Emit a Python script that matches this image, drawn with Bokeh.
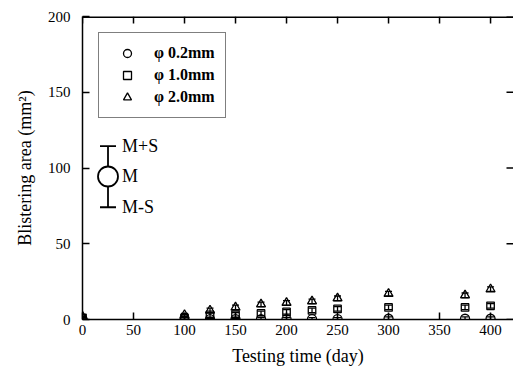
import math
from bokeh.plotting import figure
from bokeh.models import (Range1d, FixedTicker, Whisker, ColumnDataSource,
                          Legend, LegendItem, TeeHead)
from bokeh.core.properties import value
from bokeh.embed import file_html
from bokeh.resources import INLINE

# ---- data ----
days = [0, 100, 125, 150, 175, 200, 225, 250, 300, 375, 400]
area_02 = [0.3, 0.3, 0.3, 0.3, 0.3, 0.3, 0.3, 0.3, 0.5, 0.5, 0.5]
err_02 = [1.0, 1.0, 1.0, 1.0, 1.0, 1.0, 1.0, 1.0, 1.2, 1.2, 1.2]
area_10 = [1.0, 1.0, 3.0, 3.0, 4.0, 5.0, 6.0, 7.0, 8.0, 8.0, 9.0]
err_10 = [1.0, 1.0, 1.5, 1.5, 1.5, 1.5, 1.5, 1.5, 1.5, 1.5, 1.5]
area_20 = [2.0, 3.0, 6.0, 8.0, 10.0, 11.0, 12.0, 14.0, 17.0, 16.0, 20.0]
err_20 = [1.0, 1.0, 1.5, 1.5, 1.5, 1.5, 1.5, 1.5, 1.5, 1.5, 1.5]
series_labels = ["\u03c6 0.2mm", "\u03c6 1.0mm", "\u03c6 2.0mm"]

x_ticks = [0, 50, 100, 150, 200, 250, 300, 350, 400]
y_ticks = [0, 50, 100, 150, 200]
x_end = 422.5

# explanatory symbol (mean +/- std)
sample_x = [25]
sample_mean = [94.4]
sample_upper = [114.4]
sample_lower = [74.1]
sample_texts = ["M+S", "M", "M-S"]

SERIF = "Liberation Serif"

p = figure(width=513, height=382, x_range=Range1d(x_ticks[0], x_end),
           y_range=Range1d(y_ticks[0], y_ticks[-1]),
           output_backend="svg", toolbar_location=None,
           min_border_left=82, min_border_right=0, min_border_top=16, min_border_bottom=63)
p.xgrid.visible = False
p.ygrid.visible = False
p.outline_line_color = None
p.background_fill_color = "white"
p.border_fill_color = "white"

xa = p.below[0]
ya = p.left[0]
xa.ticker = FixedTicker(ticks=x_ticks)
ya.ticker = FixedTicker(ticks=y_ticks)

for ax in (xa, ya):
    ax.axis_line_color = "black"
    ax.axis_line_width = 1.5
    ax.major_tick_line_color = "black"
    ax.major_tick_line_width = 1.5
    ax.major_tick_in = 7
    ax.major_tick_out = 0
    ax.minor_tick_line_color = None
    ax.major_label_text_font = SERIF
    ax.major_label_text_font_size = "15px"
    ax.major_label_text_color = "black"
    ax.axis_label_text_font = SERIF
    ax.axis_label_text_font_size = "18px"
    ax.axis_label_text_font_style = "normal"
    ax.axis_label_text_color = "black"

xa.axis_label = "Testing time (day)"
xa.major_label_standoff = 5
xa.axis_label_standoff = 8
ya.axis_label = "Blistering area (mm\u00b2)"
ya.major_label_standoff = 12
ya.axis_label_standoff = 10

# top frame line and inward ticks on top / right sides
p.segment(x0=[x_ticks[0]], y0=[y_ticks[-1]], x1=[x_end], y1=[y_ticks[-1]],
          line_color="black", line_width=3)
p.ray(x=x_ticks, y=[y_ticks[-1]] * len(x_ticks), length=7, length_units="screen",
      angle=-math.pi / 2, line_color="black", line_width=1.5)
p.ray(x=[x_end] * len(y_ticks), y=y_ticks, length=7, length_units="screen",
      angle=math.pi, line_color="black", line_width=1.5)

def add_series(y, err, marker, size):
    src = ColumnDataSource(dict(x=days, y=y,
                                lo=[a - e for a, e in zip(y, err)],
                                hi=[a + e for a, e in zip(y, err)]))
    w = Whisker(source=src, base="x", upper="hi", lower="lo", dimension="height",
                line_color="black", line_width=1.3,
                upper_head=TeeHead(size=7, line_color="black", line_width=1.3),
                lower_head=TeeHead(size=7, line_color="black", line_width=1.3))
    p.add_layout(w)
    r = p.scatter("x", "y", source=src, marker=marker, size=size,
                  fill_color="white", fill_alpha=0.0, line_color="black", line_width=1.3)
    return r

r1 = add_series(area_02, err_02, "circle", 9)
r2 = add_series(area_10, err_10, "square", 7.5)
r3 = add_series(area_20, err_20, "triangle", 9)

legend = Legend(items=[LegendItem(label=series_labels[0], renderers=[r1]),
                       LegendItem(label=series_labels[1], renderers=[r2]),
                       LegendItem(label=series_labels[2], renderers=[r3])],
                location=(16, 201), orientation="vertical",
                border_line_color="black", border_line_width=1.2,
                background_fill_color="white", background_fill_alpha=1.0,
                label_text_font=SERIF, label_text_font_style="bold",
                label_text_font_size="16px", label_text_color="black",
                padding=10, spacing=2, glyph_width=36, glyph_height=20,
                label_height=20, label_standoff=9, margin=0)
p.add_layout(legend)

# sample mean/std symbol
ssrc = ColumnDataSource(dict(x=sample_x, y=sample_mean, hi=sample_upper, lo=sample_lower))
p.add_layout(Whisker(source=ssrc, base="x", upper="hi", lower="lo", dimension="height",
                     line_color="black", line_width=1.8,
                     upper_head=TeeHead(size=16, line_color="black", line_width=1.8),
                     lower_head=TeeHead(size=16, line_color="black", line_width=1.8)))
p.scatter("x", "y", source=ssrc, marker="circle", size=20, fill_color="white",
          line_color="black", line_width=1.8)
p.text(x=sample_x * 3, y=[sample_upper[0], sample_mean[0], sample_lower[0]],
       text=sample_texts, x_offset=14, text_baseline="middle", text_align="left",
       text_font=value(SERIF), text_font_size="18px", text_color="black")

open("out.html", "w").write(file_html(p, INLINE))
